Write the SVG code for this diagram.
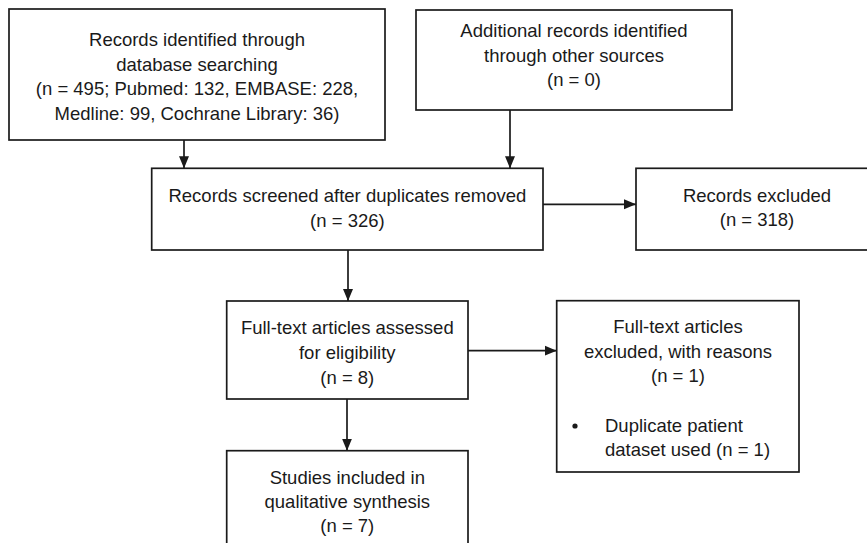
<svg xmlns="http://www.w3.org/2000/svg" width="867" height="543" viewBox="0 0 867 543">
<style>
rect.box{fill:#fff;stroke:#1a1a1a;stroke-width:1.7}
text{font-family:"Liberation Sans",Arial,sans-serif;font-size:18.5px;fill:#1a1a1a;text-anchor:middle}
text.l{text-anchor:start}
.conn line{stroke:#1a1a1a;stroke-width:1.7;marker-end:url(#ah)}
</style>
<defs>
<marker id="ah" markerUnits="userSpaceOnUse" markerWidth="12" markerHeight="12" viewBox="0 0 12 12" refX="12" refY="6" orient="auto">
<path d="M0,1 L12,6 L0,11 Z" fill="#1a1a1a"/>
</marker>
</defs>
<rect width="867" height="543" fill="#fff"/>
<g id="n1">
<rect class="box" x="9" y="9" width="376" height="131"/>
<text x="197" y="45.7">Records identified through</text>
<text x="197" y="70.7">database searching</text>
<text x="197" y="95.3">(n = 495; Pubmed: 132, EMBASE: 228,</text>
<text x="197" y="120">Medline: 99, Cochrane Library: 36)</text>
</g>
<g id="n2">
<rect class="box" x="416" y="10" width="316" height="100"/>
<text x="574" y="37">Additional records identified</text>
<text x="574" y="61.7">through other sources</text>
<text x="574" y="85.5">(n = 0)</text>
</g>
<g id="n3">
<rect class="box" x="151.7" y="168.3" width="391.3" height="81.7"/>
<text x="347.4" y="201.7">Records screened after duplicates removed</text>
<text x="347.4" y="227">(n = 326)</text>
</g>
<g id="n4">
<rect class="box" x="636" y="168.3" width="242" height="81.7"/>
<text x="757" y="201.7">Records excluded</text>
<text x="757" y="226">(n = 318)</text>
</g>
<g id="n5">
<rect class="box" x="226.7" y="301" width="241.3" height="98"/>
<text x="347.3" y="334.3">Full-text articles assessed</text>
<text x="347.3" y="359.3">for eligibility</text>
<text x="347.3" y="383.5">(n = 8)</text>
</g>
<g id="n6">
<rect class="box" x="226.7" y="450.7" width="241.3" height="100"/>
<text x="347.3" y="484.3">Studies included in</text>
<text x="347.3" y="508.3">qualitative synthesis</text>
<text x="347.3" y="532">(n = 7)</text>
</g>
<g id="n7">
<rect class="box" x="556.7" y="300.7" width="242.3" height="171.3"/>
<text x="678" y="333.3">Full-text articles</text>
<text x="678" y="358.3">excluded, with reasons</text>
<text x="678" y="382">(n = 1)</text>
<circle cx="575" cy="426" r="2.6" fill="#1a1a1a"/>
<text class="l" x="605" y="431.7">Duplicate patient</text>
<text class="l" x="605" y="456">dataset used (n = 1)</text>
</g>
<g id="connectors" class="conn">
<line x1="184" y1="140" x2="184" y2="168.3"/>
<line x1="510" y1="110" x2="510" y2="168.3"/>
<line x1="543" y1="204.3" x2="636" y2="204.3"/>
<line x1="348" y1="250" x2="348" y2="301"/>
<line x1="468" y1="350.7" x2="556.7" y2="350.7"/>
<line x1="347" y1="399" x2="347" y2="450.7"/>
</g>
</svg>
